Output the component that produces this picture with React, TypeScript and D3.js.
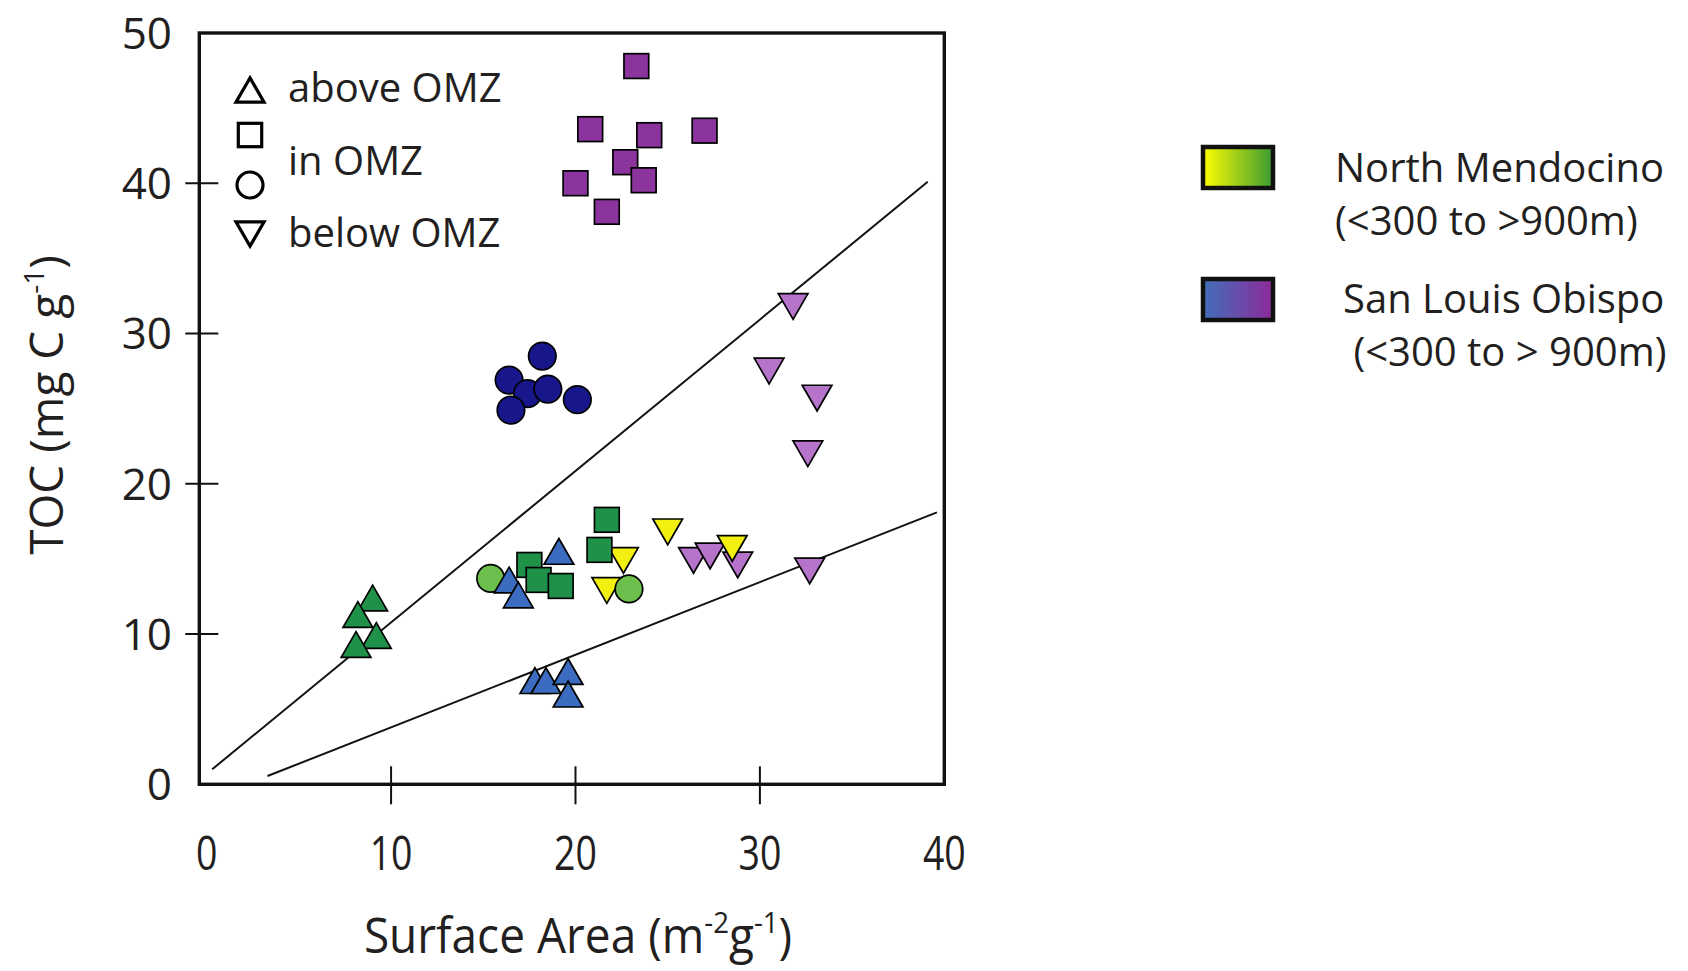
import React from 'react';
import * as d3 from 'd3';

const W = 1688;
const H = 971;

const xTicks = [0, 10, 20, 30, 40];
const yTicks = [0, 10, 20, 30, 40, 50];
const xInnerTicks = [10, 20, 30];
const yInnerTicks = [10, 20, 30, 40];

type Pt = [number, number];

// North Mendocino (<300 to >900 m)
const nmAboveOMZ: Pt[] = [[9.0, 12.4], [8.2, 11.3], [9.2, 9.9], [8.1, 9.3]];
const nmInOMZSquares: Pt[] = [[17.5, 14.6], [18.0, 13.6], [19.2, 13.2], [21.7, 17.6], [21.3, 15.6]];
const nmInOMZCircles: Pt[] = [[15.4, 13.7], [22.9, 13.0]];
const nmBelowOMZ: Pt[] = [[25.0, 16.8], [22.6, 14.9], [21.7, 12.9], [28.5, 15.7]];

// San Louis Obispo (<300 to >900 m)
const sloAboveOMZ: Pt[] = [[16.4, 13.6], [16.9, 12.6], [19.1, 15.5], [17.8, 6.9], [18.4, 6.9], [19.6, 7.5], [19.6, 6.0]];
const sloInOMZSquares: Pt[] = [[23.3, 47.8], [20.8, 43.6], [24.0, 43.2], [27.0, 43.5], [22.7, 41.4], [23.7, 40.2], [20.0, 40.0], [21.7, 38.1]];
const sloInOMZCircles: Pt[] = [[18.2, 28.5], [16.4, 26.9], [17.4, 26.0], [18.5, 26.3], [20.1, 25.6], [16.5, 24.9]];
const sloBelowOMZ: Pt[] = [[31.8, 31.8], [30.5, 27.5], [33.1, 25.7], [32.6, 22.0], [26.4, 14.9], [27.3, 15.2], [28.8, 14.6], [32.7, 14.2]];

// trend lines
const upperLine: Pt[] = [[0.3, 1.0], [39.1, 40.1]];
const lowerLine: Pt[] = [[3.3, 0.55], [39.6, 18.1]];

const shapeLegend = ['above OMZ', 'in OMZ', 'below OMZ'];
const regionLegend = [
  { name: 'North Mendocino', depth: '(<300 to >900m)' },
  { name: 'San Louis Obispo', depth: ' (<300 to > 900m)' },
];

const x = d3.scaleLinear().domain([-0.4, 40]).range([199.3, 944.3]);
const y = d3.scaleLinear().domain([0, 50]).range([784.3, 33]);

const FONT = '"Open Sans", "Noto Sans", sans-serif';

type Shape = 'up' | 'down' | 'square' | 'circle';

function Marker({ shape, cx, cy, fill, size, sw }: { shape: Shape; cx: number; cy: number; fill: string; size: number; sw: number }) {
  if (shape === 'circle') {
    return <circle cx={cx} cy={cy} r={size / 2} fill={fill} stroke="#000" strokeWidth={sw} />;
  }
  if (shape === 'square') {
    const s = size * 0.9;
    return <rect x={cx - s / 2} y={cy - s / 2} width={s} height={s} fill={fill} stroke="#000" strokeWidth={sw} />;
  }
  const s = size * 1.08;
  const h = (s * Math.sqrt(3)) / 2;
  const d =
    shape === 'up'
      ? `M${cx},${cy - h / 2}L${cx + s / 2},${cy + h / 2}L${cx - s / 2},${cy + h / 2}Z`
      : `M${cx},${cy + h / 2}L${cx + s / 2},${cy - h / 2}L${cx - s / 2},${cy - h / 2}Z`;
  return <path d={d} fill={fill} stroke="#000" strokeWidth={sw} strokeLinejoin="miter" />;
}

const groups: { data: Pt[]; shape: Shape; color: string }[] = [
  { data: sloBelowOMZ, shape: 'down', color: '#b573c9' },
  { data: nmBelowOMZ, shape: 'down', color: '#f3ef10' },
  { data: nmInOMZCircles, shape: 'circle', color: '#6cbf4c' },
  { data: nmInOMZSquares, shape: 'square', color: '#1f9149' },
  { data: sloAboveOMZ, shape: 'up', color: '#3b6cbf' },
  { data: nmAboveOMZ, shape: 'up', color: '#1f9149' },
  { data: sloInOMZSquares, shape: 'square', color: '#8b349e' },
  { data: sloInOMZCircles, shape: 'circle', color: '#17178b' },
];

export default function App() {
  const line = d3.line<Pt>().x((d) => x(d[0])).y((d) => y(d[1]));
  const x0 = x(-0.4);
  const x1 = x(40);
  const y0 = y(0);
  const y1 = y(50);
  const legendShapes: { shape: Shape; cy: number }[] = [
    { shape: 'up', cy: 90 },
    { shape: 'square', cy: 135 },
    { shape: 'circle', cy: 185 },
    { shape: 'down', cy: 234 },
  ];
  const legendTextY = [102, 175, 247];
  return (
    <svg width={W} height={H} style={{ position: 'absolute', left: 0, top: 0, display: 'block', background: '#fff' }}>
      <defs>
        <linearGradient id="gNM" x1="0" x2="1" y1="0" y2="0">
          <stop offset="0" stopColor="#ffff00" />
          <stop offset="1" stopColor="#3a9a34" />
        </linearGradient>
        <linearGradient id="gSLO" x1="0" x2="1" y1="0" y2="0">
          <stop offset="0" stopColor="#416fb8" />
          <stop offset="1" stopColor="#8c2a9b" />
        </linearGradient>
      </defs>
      <rect x={0} y={0} width={W} height={H} fill="#fff" />

      {/* trend lines */}
      <path d={line(upperLine) || ''} fill="none" stroke="#111" strokeWidth={2} />
      <path d={line(lowerLine) || ''} fill="none" stroke="#111" strokeWidth={2} />

      {/* frame */}
      <rect x={x0} y={y1} width={x1 - x0} height={y0 - y1} fill="none" stroke="#111" strokeWidth={3.4} />
      {yInnerTicks.map((t) => (
        <line key={'yt' + t} x1={x0 - 14} x2={x0 + 19} y1={y(t)} y2={y(t)} stroke="#111" strokeWidth={2} />
      ))}
      {xInnerTicks.map((t) => (
        <line key={'xt' + t} x1={x(t)} x2={x(t)} y1={y0 - 18} y2={y0 + 20} stroke="#111" strokeWidth={2} />
      ))}

      {/* tick labels */}
      {yTicks.map((t) => (
        <text key={'yl' + t} x={172} y={y(t)} dy="0.36em" textAnchor="end" fontFamily={FONT} fontSize={44} fill="#231f20">
          {t}
        </text>
      ))}
      {xTicks.map((t) => (
        <text
          key={'xl' + t}
          transform={`translate(${x(t)},${870}) scale(0.78,1)`}
          textAnchor="middle"
          fontFamily={FONT}
          fontSize={48}
          fill="#231f20"
        >
          {t}
        </text>
      ))}

      {/* axis titles */}
      <text transform={`translate(578,953) scale(0.92,1)`} textAnchor="middle" fontFamily={FONT} fontSize={50} fill="#231f20">
        Surface Area (m
        <tspan fontSize={30} dy={-20}>-2</tspan>
        <tspan dy={20}>g</tspan>
        <tspan fontSize={30} dy={-20}>-1</tspan>
        <tspan dy={20}>)</tspan>
      </text>
      <text transform={`translate(63,405) rotate(-90)`} textAnchor="middle" fontFamily={FONT} fontSize={46} fill="#231f20">
        TOC (mg C g
        <tspan fontSize={28} dy={-19}>-1</tspan>
        <tspan dy={19}>)</tspan>
      </text>

      {/* data markers */}
      {groups.map((g, gi) =>
        g.data.map((d, i) => (
          <Marker key={gi + '-' + i} shape={g.shape} cx={x(d[0])} cy={y(d[1])} fill={g.color} size={27.5} sw={1.7} />
        ))
      )}

      {/* shape legend */}
      {legendShapes.map((l, i) => (
        <Marker key={'ls' + i} shape={l.shape} cx={250} cy={l.cy} fill="#fff" size={26} sw={3.2} />
      ))}
      {shapeLegend.map((t, i) => (
        <text key={'lt' + i} x={288} y={legendTextY[i]} fontFamily={FONT} fontSize={40} fill="#231f20">
          {t}
        </text>
      ))}

      {/* region legend */}
      <rect x={1203} y={147} width={70} height={41} fill="url(#gNM)" stroke="#111" strokeWidth={4.5} />
      <rect x={1203} y={279} width={70} height={41} fill="url(#gSLO)" stroke="#111" strokeWidth={4.5} />
      <text x={1335} y={182} fontFamily={FONT} fontSize={40} fill="#231f20">{regionLegend[0].name}</text>
      <text x={1335} y={235} fontFamily={FONT} fontSize={40} fill="#231f20">{regionLegend[0].depth}</text>
      <text x={1343} y={313} fontFamily={FONT} fontSize={40} fill="#231f20">{regionLegend[1].name}</text>
      <text x={1343} y={366} fontFamily={FONT} fontSize={40} fill="#231f20" xmlSpace="preserve">{regionLegend[1].depth}</text>
    </svg>
  );
}
